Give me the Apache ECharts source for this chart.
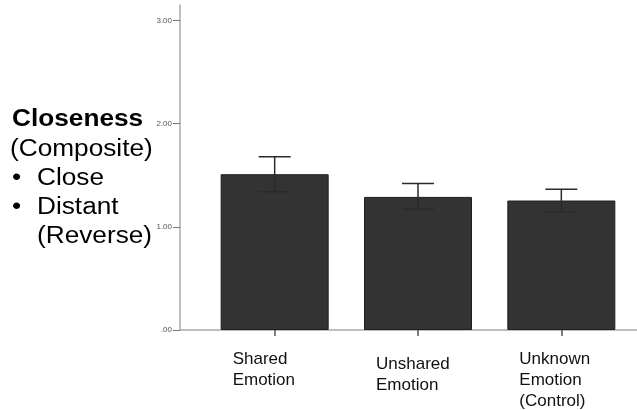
<!DOCTYPE html>
<html>
<head>
<meta charset="utf-8">
<script src="https://cdn.jsdelivr.net/npm/echarts@6/dist/echarts.min.js"></script>
<style>
  html, body { margin: 0; padding: 0; background: #ffffff; }
  #chart { width: 637px; height: 410px; }
</style>
</head>
<body>
<div id="chart"></div>
<script>
// Condition groups on the x axis
const categories = ['Shared\nEmotion', 'Unshared\nEmotion', 'Unknown\nEmotion\n(Control)'];
// Mean closeness (composite) per group
const means = [1.51, 1.29, 1.255];
// Error bar bounds per group
const lowerBounds = [1.34, 1.17, 1.145];
const upperBounds = [1.68, 1.42, 1.365];
// Y axis ticks
const yTicks = [0, 1, 2, 3];

const FONT = '"Liberation Sans", Arial, sans-serif';

const chart = echarts.init(document.getElementById('chart'), null, { renderer: 'canvas' });

// Measure description shown to the left of the plot
const sideLines = [
  { x: 12, y: 108, text: 'Closeness', bold: true },
  { x: 10, y: 138, text: '(Composite)' },
  { x: 12, y: 167, text: '\u2022' },
  { x: 37, y: 167, text: 'Close' },
  { x: 12, y: 196, text: '\u2022' },
  { x: 37, y: 196, text: 'Distant' },
  { x: 37, y: 225, text: '(Reverse)' }
];

chart.setOption({
  animation: false,
  backgroundColor: '#ffffff',
  grid: [
    { left: 203, right: 4, top: 5, bottom: 80 },
    { left: 180, right: 0, top: 5, bottom: 80 }
  ],
  xAxis: [
    {
      type: 'category',
      gridIndex: 0,
      data: categories.map(function (c, i) {
        return i === 1 ? { value: c, textStyle: { padding: [5, 0, 0, 0] } } : c;
      }),
      axisLine: { show: false },
      axisTick: { show: true, alignWithLabel: true, length: 6, lineStyle: { color: '#555', width: 1.5 } },
      axisLabel: {
        margin: 19,
        interval: 0,
        formatter: function (v) {
          return v.split('\n').map(function (s) { return '{l|' + s + '}'; }).join('\n');
        },
        rich: {
          l: { align: 'left', width: 84, fontFamily: FONT, fontSize: 17, lineHeight: 21, color: '#111' }
        }
      }
    },
    {
      type: 'value',
      gridIndex: 1,
      min: 0,
      max: 1,
      axisLine: { show: true, lineStyle: { color: '#aaaaaa', width: 1.5 } },
      axisTick: { show: false },
      axisLabel: { show: false },
      splitLine: { show: false }
    }
  ],
  yAxis: [
    {
      type: 'value',
      gridIndex: 0,
      min: 0,
      max: 3.15,
      interval: 1,
      offset: 23,
      axisLine: { show: true, lineStyle: { color: '#aaaaaa', width: 1.5 } },
      axisTick: { show: true, length: 7, customValues: yTicks, lineStyle: { color: '#777', width: 1 } },
      axisLabel: {
        customValues: yTicks,
        margin: 8,
        fontFamily: FONT,
        fontSize: 8,
        color: '#555',
        formatter: function (v) {
          return v === 0 ? '.00' : v.toFixed(2);
        }
      },
      splitLine: { show: false }
    },
    {
      type: 'value',
      gridIndex: 1,
      min: 0,
      max: 1,
      show: false
    }
  ],
  series: [
    {
      type: 'bar',
      xAxisIndex: 0,
      yAxisIndex: 0,
      data: means,
      barWidth: 108,
      itemStyle: { color: '#333333', borderColor: '#1f1f1f', borderWidth: 1 },
      z: 2
    },
    {
      type: 'custom',
      xAxisIndex: 0,
      yAxisIndex: 0,
      data: means.map(function (m, i) { return [i, lowerBounds[i], upperBounds[i]]; }),
      z: 5,
      renderItem: function (params, api) {
        const lo = api.coord([api.value(0), api.value(1)]);
        const hi = api.coord([api.value(0), api.value(2)]);
        const half = 16;
        const style = { stroke: '#2b2b2b', lineWidth: 1.5, fill: null };
        return {
          type: 'group',
          children: [
            { type: 'line', shape: { x1: lo[0], y1: lo[1], x2: hi[0], y2: hi[1] }, style: style },
            { type: 'line', shape: { x1: lo[0] - half, y1: lo[1], x2: lo[0] + half, y2: lo[1] }, style: style },
            { type: 'line', shape: { x1: hi[0] - half, y1: hi[1], x2: hi[0] + half, y2: hi[1] }, style: style }
          ]
        };
      }
    }
  ],
  graphic: sideLines.map(function (l) {
    return {
      type: 'text',
      x: l.x,
      y: l.y,
      scaleX: 1.14,
      style: {
        text: l.text,
        fontFamily: FONT,
        fontSize: 23,
        fontWeight: l.bold ? 'bold' : 'normal',
        fill: '#000'
      }
    };
  })
});
</script>
</body>
</html>
